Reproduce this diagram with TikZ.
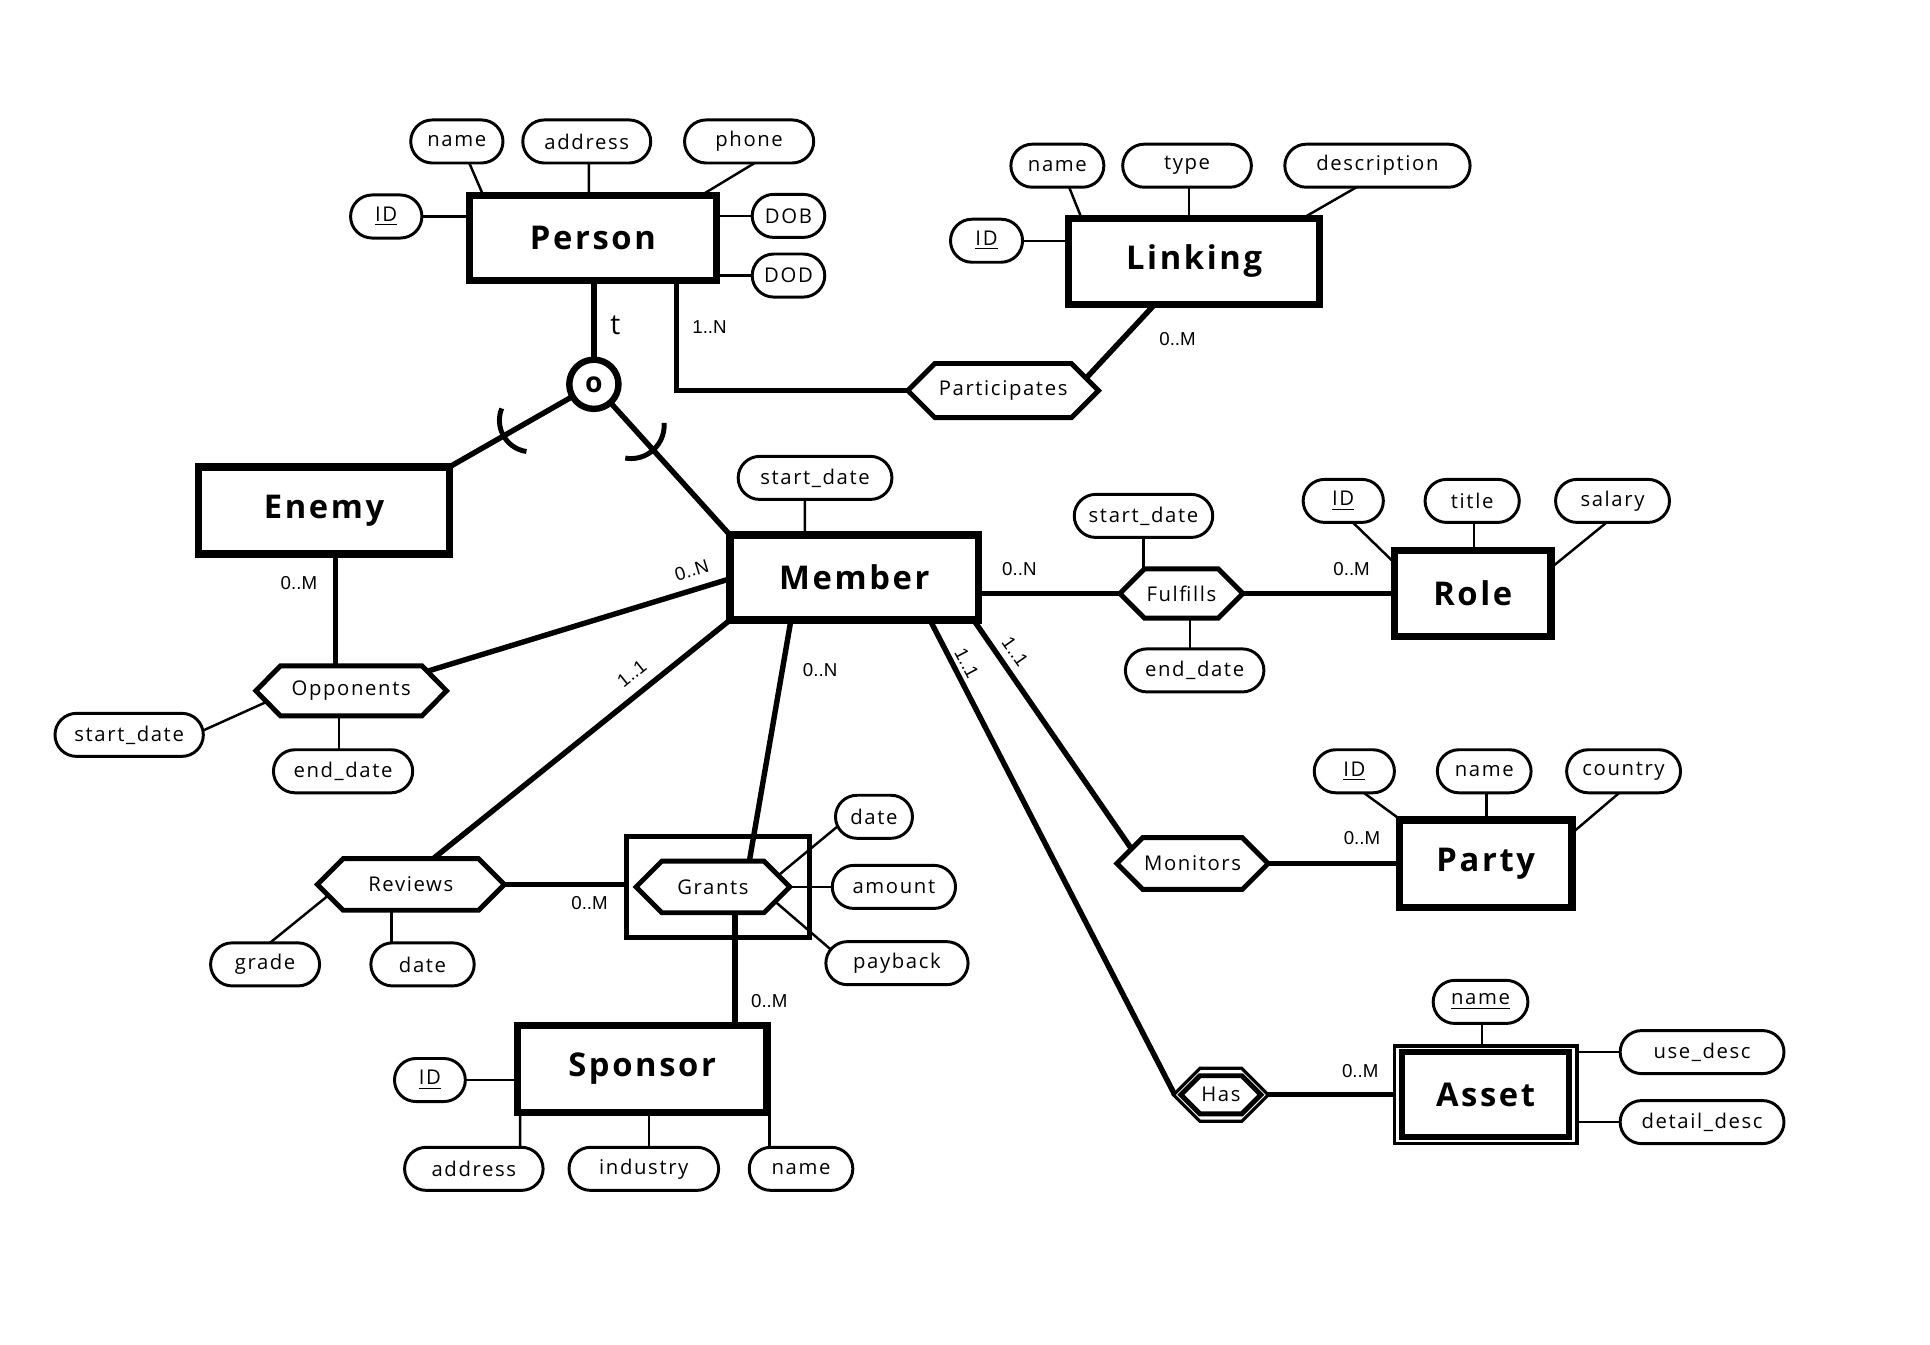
\documentclass[tikz,border=0pt]{standalone}
\usepackage{fontspec}
\setmainfont{Open Sans}[LetterSpace=8.0]
\newfontfamily\cardfont{Liberation Sans}
\usetikzlibrary{calc}
\pgfdeclarelayer{bg}
\pgfdeclarelayer{mid}
\pgfsetlayers{bg,mid,main}
\newcommand\hexdraw[3]{\draw[#3] (#1.west) -- ($(#1.north west)+(#2,0)$) -- ($(#1.north east)+(-#2,0)$) -- (#1.east) -- ($(#1.south east)+(-#2,0)$) -- ($(#1.south west)+(#2,0)$) -- cycle;}
\tikzset{
  sz/.style 2 args={minimum width=#1*0.5pt, minimum height=#2*0.5pt},
  ent/.style={draw, fill=white, line width=3pt, inner sep=0pt, outer sep=0pt, font=\bfseries\fontsize{13.3}{16}\selectfont},
  attr/.style={draw, fill=white, line width=1.2pt, rounded corners=8.75pt, inner sep=0pt, outer sep=0pt, minimum height=17.5pt, font=\fontsize{8.25}{10}\selectfont},
  aw/.style={minimum width=#1*0.5pt},
  relbox/.style={inner sep=0pt, outer sep=0pt, font=\fontsize{8.25}{10}\selectfont},
  relline/.style={draw, fill=white, line width=2pt},
  conn/.style={line width=2.2pt},
  al/.style={line width=1pt},
  card/.style={inner sep=0pt, font=\cardfont\fontsize{7.6}{9}\selectfont},
}
\begin{document}
\begin{tikzpicture}[x=0.5pt,y=-0.5pt]
\useasboundingbox (0,0) rectangle (1569,1093);
\begin{pgfonlayer}{bg}
\fill[white] (0,0) rectangle (1569,1093);
\end{pgfonlayer}

% ---------- entities ----------
\node[ent, sz={201}{69}] (person) at (482,193.4) {Person};
\node[ent, sz={204}{70}] (linking) at (970.7,212.5) {Linking};
\node[ent, sz={204}{71}] (enemy) at (263.5,415) {Enemy};
\node[ent, sz={202}{69}] (member) at (694.5,469.5) {Member};
\node[ent, sz={127}{70}] (role) at (1197.3,482.6) {Role};
\node[ent, sz={140}{71}] (party) at (1207.8,702) {Party};
\node[ent, sz={203}{71}] (sponsor) at (522,869) {Sponsor};
\node[ent, line width=1.3pt, sz={148.5}{79.4}] (asset) at (1207.7,890) {Asset};
\draw[line width=2.4pt] ($(asset.center)+(-68,-34.5)$) rectangle ($(asset.center)+(68,34.5)$);

% ---------- specialisation circle ----------
\node[circle, draw, fill=white, line width=2.6pt, minimum size=20pt, inner sep=0pt, font=\bfseries\fontsize{11.5}{12}\selectfont] (isa) at (482.8,312.4) {o};
\node[inner sep=0pt, font=\fontsize{11.5}{12}\selectfont] (tlab) at (500.3,264.8) {t};
\draw[line width=2pt] ($(isa.center)+(150.2:59)$) ++(98.2:25.6) arc[start angle=98.2, end angle=202.2, radius=25.6];
\draw[line width=2pt] ($(isa.center)+(47.9:45)$) ++(-4.1:27) arc[start angle=-4.1, end angle=99.9, radius=27];

% ---------- relationships ----------
\node[relbox, sz={155}{44}] (part) at (815.5,317.5) {Participates};
\node[relbox, sz={100}{40}] (fulfills) at (960.4,482.5) {Fulfills};
\node[relbox, sz={155}{40.7}] (opp) at (285.5,561.6) {Opponents};
\node[relbox, sz={152}{42}] (reviews) at (334,719) {Reviews};
\node[draw, line width=2pt, inner sep=0pt, outer sep=0pt, sz={149}{82}] (agg) at (583.5,721) {};
\node[relbox, sz={125}{42}] (grants) at (579.6,721) {Grants};
\node[relbox, sz={123}{42}] (monitors) at (969.5,702) {Monitors};
\node[relbox, sz={77}{43}] (has) at (992.5,890) {Has};
\begin{pgfonlayer}{mid}
\hexdraw{part}{22}{relline}
\hexdraw{fulfills}{20}{relline}
\hexdraw{opp}{20}{relline}
\hexdraw{reviews}{21}{relline}
\hexdraw{grants}{21}{relline}
\hexdraw{monitors}{21}{relline}
\hexdraw{has}{21.5}{draw, fill=white, line width=1.3pt}
\draw[line width=2pt] ($(has.center)+(-32.5,0)$) -- ($(has.center)+(-17,-15.5)$) -- ($(has.center)+(17,-15.5)$) -- ($(has.center)+(32.5,0)$) -- ($(has.center)+(17,15.5)$) -- ($(has.center)+(-17,15.5)$) -- cycle;
\end{pgfonlayer}

% ---------- attributes ----------
\node[attr, aw=75] (p_name) at (371.4,115) {name};
\node[attr, aw=104] (p_addr) at (477,115) {address};
\node[attr, aw=105] (p_phone) at (609,115) {phone};
\node[attr, aw=58] (p_id) at (314,176) {\underline{ID}};
\node[attr, aw=59] (p_dob) at (641,175.5) {DOB};
\node[attr, aw=59] (p_dod) at (641,224) {DOD};

\node[attr, aw=75.6] (l_name) at (859.6,134.7) {name};
\node[attr, aw=104.6] (l_type) at (965,134.7) {type};
\node[attr, aw=150.6] (l_desc) at (1119.8,134.7) {description};
\node[attr, aw=58.6] (l_id) at (802,195.7) {\underline{ID}};

\node[attr, aw=125] (m_sd) at (662.6,388.5) {start\_date};

\node[attr, aw=112.6] (f_sd) at (929.6,419.4) {start\_date};
\node[attr, aw=112.6] (f_ed) at (971.2,545) {end\_date};

\node[attr, aw=65.2] (ro_id) at (1092,407.2) {\underline{ID}};
\node[attr, aw=76.6] (ro_title) at (1196.8,407.2) {title};
\node[attr, aw=92.6] (ro_salary) at (1310.9,407.2) {salary};

\node[attr, aw=120.6] (o_sd) at (105,597.4) {start\_date};
\node[attr, aw=113.2] (o_ed) at (278.9,627) {end\_date};

\node[attr, aw=88.6] (r_grade) at (215.5,784) {grade};
\node[attr, aw=84] (r_date) at (343.5,784) {date};

\node[attr, aw=62.6] (g_date) at (710.5,664) {date};
\node[attr, aw=100.2] (g_amount) at (726.7,721) {amount};
\node[attr, aw=115.6] (g_payback) at (729.2,783) {payback};

\node[attr, aw=57.6] (s_id) at (349.5,878) {\underline{ID}};
\node[attr, aw=112.6] (s_addr) at (385.2,950.2) {address};
\node[attr, aw=121.6] (s_ind) at (523.4,950.2) {industry};
\node[attr, aw=84.2] (s_name) at (651.2,950.2) {name};

\node[attr, aw=65.2] (pa_id) at (1101,627) {\underline{ID}};
\node[attr, aw=76.2] (pa_name) at (1206.6,627) {name};
\node[attr, aw=92.6] (pa_country) at (1319.9,627) {country};

\node[attr, aw=77] (a_name) at (1203.6,814.5) {\underline{name}};
\node[attr, aw=133.2] (a_use) at (1383.7,855.3) {use\_desc};
\node[attr, aw=133.2] (a_det) at (1383.7,912.2) {detail\_desc};

% ---------- cardinalities ----------
\node[card] (c1) at (576.8,265.5) {1..N};
\node[card] (c2) at (957.3,275.3) {0..M};
\node[card] (c3) at (243,474.2) {0..M};
\node[card, rotate=17] (c4) at (562.3,463.4) {0..N};
\node[card] (c5) at (828.7,462.6) {0..N};
\node[card] (c6) at (1098.8,462.8) {0..M};
\node[card, rotate=39] (c7) at (513.6,547.4) {1..1};
\node[card] (c8) at (666.7,544.7) {0..N};
\node[card, rotate=-62.4] (c9) at (785.9,539.3) {1..1};
\node[card, rotate=-55] (c10) at (825.2,529.8) {1..1};
\node[card] (c11) at (1107.2,681.5) {0..M};
\node[card] (c12) at (479.3,734.5) {0..M};
\node[card] (c13) at (625.4,814) {0..M};
\node[card] (c14) at (1105.8,870.4) {0..M};

% ---------- connectors ----------
\begin{pgfonlayer}{bg}
% relationship connectors
\draw[conn] (isa.center |- person.south) -- (isa.center);
\draw[conn] (isa.center) -- (enemy.north east);
\draw[conn] (isa.center) -- (member.north west);
\draw[conn] ($(person.south)+(68,0)$) |- (part.center);
\draw[conn] ($(part.center)+(50.7,7.9)$) -- ($(linking.south west)+(70,0)$);
\draw[conn] ($(enemy.center)+(9.4,0)$) -- ($(opp.center)+(-12.6,0)$);
\draw[conn] ($(opp.center)+(0,3)$) -- ($(member.west)+(0,1)$);
\draw[conn] (fulfills.center -| member.center) -- (fulfills.center);
\draw[conn] (fulfills.center) -- (fulfills.center -| role.center);
\draw[conn] ($(member.south west)+(5,-4)$) -- ($(reviews.center)+(12,-16)$);
\draw[conn] (reviews.center) -- (reviews.center -| agg.west);
\draw[conn] ($(member.south)+(-51.5,0)$) -- ($(grants.north)+(29.6,0)$);
\draw[conn] ($(grants.center)+(17.8,0)$) -- ($(sponsor.center)+(75.4,0)$);
\draw[conn] ($(member.south east)+(-9.5,-8)$) -- ($(monitors.center)+(-44.5,-4.4)$);
\draw[conn] (monitors.center) -- (monitors.center -| party.center);
\draw[conn] ($(member.south)+(57.4,-8)$) -- ($(has.west)+(1,0)$);
\draw[conn] (has.center) -- (has.center -| asset.center);
% attribute lines
\draw[al] ($(p_name.center)+(6.6,9.4)$) -- ($(person.north west)+(12.5,2.6)$);
\draw[al] ($(p_addr.center)+(1.8,0)$) -- ($(person.center)+(-3.2,0)$);
\draw[al] ($(p_phone.center)+(7,16)$) -- ($(person.north east)+(-14.5,1.1)$);
\draw[al] (p_id.center) -- (p_id.center -| person.center);
\draw[al] (p_dob.center) -- (p_dob.center -| person.center);
\draw[al] (p_dod.center) -- (p_dod.center -| person.center);
\draw[al] ($(l_name.center)+(6.6,10.2)$) -- ($(linking.north west)+(12.1,3.7)$);
\draw[al] ($(l_type.center)+(1.7,0)$) -- ($(linking.center)+(-4,0)$);
\draw[al] ($(l_desc.center)+(-10.6,13.8)$) -- ($(linking.north east)+(-19.4,3.2)$);
\draw[al] (l_id.center) -- (l_id.center -| linking.center);
\draw[al] ($(m_sd.center)+(-8.2,0)$) -- ($(member.center)+(-40.1,0)$);
\draw[al] (f_sd.center) -- (f_sd.center |- fulfills.center);
\draw[al] ($(f_ed.center)+(-4,0)$) -- ($(fulfills.center)+(6.8,0)$);
\draw[al] ($(ro_id.center)+(-1,9)$) -- ($(role.north west)+(6,16)$);
\draw[al] ($(ro_title.center)+(1.5,0)$) -- ($(role.center)+(1,0)$);
\draw[al] ($(ro_salary.center)+(2,12)$) -- ($(role.north east)+(-6,19)$);
\draw[al] ($(o_sd.center)+(50,1)$) -- ($(opp.west)+(22,3)$);
\draw[al] ($(o_ed.center)+(-3.3,0)$) -- ($(opp.center)+(-9.9,0)$);
\draw[al] ($(r_grade.center)+(1.2,-15.3)$) -- ($(reviews.center)+(-61.4,4.3)$);
\draw[al] ($(r_date.center)+(-25.3,0)$) -- ($(reviews.center)+(-15.8,0)$);
\draw[al] ($(grants.east)+(-11,-8)$) -- ($(g_date.center)+(-25,4)$);
\draw[al] (grants.center) -- (grants.center -| g_amount.center);
\draw[al] ($(grants.east)+(-13,11)$) -- ($(g_payback.center)+(-50.2,-8)$);
\draw[al] (s_id.center) -- (s_id.center -| sponsor.center);
\draw[al] ($(s_addr.center)+(37.6,0)$) -- ($(sponsor.center)+(-99.2,0)$);
\draw[al] ($(s_ind.center)+(4.4,0)$) -- ($(sponsor.center)+(5.8,0)$);
\draw[al] ($(s_name.center)+(-25.8,0)$) -- ($(sponsor.center)+(103.4,0)$);
\draw[al] ($(pa_id.center)+(-4,9)$) -- ($(party.north west)+(5.5,3.3)$);
\draw[al] ($(pa_name.center)+(1.7,0)$) -- ($(party.center)+(0.5,0)$);
\draw[al] ($(pa_country.center)+(0.3,14.3)$) -- ($(party.north east)+(-4.8,15)$);
\draw[al] ($(a_name.center)+(1.3,0)$) -- ($(asset.center)+(-2.8,0)$);
\draw[al] (a_use.center) -- (a_use.center -| asset.center);
\draw[al] (a_det.center) -- (a_det.center -| asset.center);
\end{pgfonlayer}
\end{tikzpicture}
\end{document}
